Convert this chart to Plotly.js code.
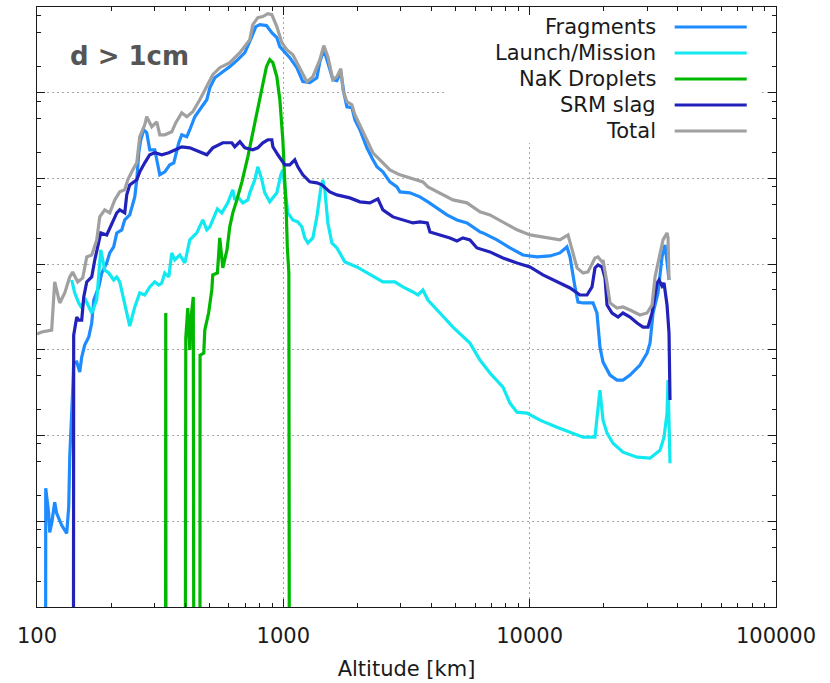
<!DOCTYPE html>
<html>
<head>
<meta charset="utf-8">
<script src="https://cdn.plot.ly/plotly-3.0.1.min.js"></script>
<style>
  html, body { margin: 0; padding: 0; background: #ffffff; }
  #chart { width: 830px; height: 683px; }
</style>
</head>
<body>
<div id="chart"></div>
<script>
// Debris density versus altitude, objects larger than 1 cm.
// Altitudes in km; densities stored as log10 values (axis is logarithmic).
// A value of -5 marks a population that drops to nothing (falls off the bottom).

const fragAlt = [108.2,108.5,111.5,112.6,114.7,118,120.2,126,132,134.5,135.8,138.3,139.6,140.9,145,149.1,151.9,156.2,162.2,166.8,170,178.1,183.2,191.9,197.4,204.8,210.8,220.8,227.1,237.9,249.4,254.1,258.9,263.8,271.3,278.9,286.9,300.7,315.1,330.2,346,359.2,376.3,387,405.5,417.2,437.1,466.7,489,503,527,567.9,606,653.4,698,744.9,773.2,803,854,898,941,968,1014,1062,1134,1200,1281,1368,1407,1460,1516,1589,1650,1712,1761,1811,1898,1952,2045,2184,2288,2398,2536,2707,2891,2973,3264,3585,3864,4322,4615,5068,5565,6283,6462,7365,8318,9392,10710,12090,13270,14170,14580,15270,15710,16470,18080,18760,19290,19850,21180,22620,23930,25550,28050,29960,30800,31680,33190,34460,35440,36110,36790];
const fragLog = [-5,1.386,1.093,0.871,0.977,1.222,1.093,0.953,0.860,1.164,1.748,2.180,2.530,2.846,2.857,2.741,2.916,3.056,3.150,3.313,3.582,3.734,3.897,4.014,4.131,4.201,4.364,4.400,4.516,4.575,4.785,4.984,5.299,5.451,5.568,5.533,5.334,5.334,5.042,5.077,5.159,5.182,5.416,5.509,5.486,5.568,5.720,5.836,5.918,6.058,6.175,6.245,6.304,6.386,6.467,6.654,6.771,6.794,6.783,6.701,6.643,6.537,6.467,6.409,6.292,6.129,6.117,6.175,6.362,6.502,6.350,6.152,6.140,6.245,6.000,5.836,5.825,5.685,5.568,5.358,5.241,5.136,5.077,4.960,4.902,4.843,4.832,4.785,4.727,4.633,4.575,4.516,4.481,4.376,4.364,4.283,4.189,4.107,4.084,4.096,4.131,4.201,4.084,3.734,3.558,3.547,3.547,3.430,3.033,2.857,2.706,2.647,2.647,2.706,2.822,2.963,3.079,3.430,3.664,4.084,4.224,4.026,3.815];

const launchAlt = [138.3,142.3,147.7,151.9,156.2,162.2,166.8,174.8,181.5,188.4,195.6,204.8,210.8,216.7,231.4,237.9,249.4,261.3,273.8,286.9,300.7,312.2,321,330.2,342.7,352.5,362.6,379.9,398.1,417.2,445.5,471,489,503,540,562.6,595.1,623.6,635,653.4,684.7,717.6,731,766,787.8,817.9,841,881,941,977,995.4,1024,1043,1093,1145,1189,1222,1258,1318,1368,1420,1447,1474,1516,1574,1650,1778,1989,2184,2536,2836,3058,3358,3518,3687,3864,4322,4881,5722,6283,6899,7792,8318,8882,9750,11010,12910,14580,16470,18410,18940,19290,19850,20610,21790,23930,27290,30800,33820,35110,36110,36450,37130];
const launchLog = [3.815,3.664,3.547,3.488,3.605,3.500,3.430,3.582,4.166,3.932,3.897,3.815,3.850,3.792,3.430,3.278,3.500,3.664,3.640,3.734,3.792,3.757,3.780,3.897,3.850,4.131,4.049,4.107,4.014,4.283,4.364,4.516,4.400,4.435,4.645,4.598,4.715,4.867,4.750,4.785,4.715,4.750,4.832,4.984,5.136,4.984,4.832,4.727,4.832,5.042,5.101,4.750,4.598,4.516,4.493,4.435,4.306,4.248,4.306,4.551,4.890,4.984,4.867,4.481,4.248,4.189,4.026,3.967,3.897,3.792,3.792,3.734,3.675,3.640,3.698,3.582,3.430,3.266,3.079,2.881,2.729,2.565,2.379,2.273,2.262,2.180,2.098,2.040,1.981,1.981,2.332,2.530,2.180,2.028,1.911,1.806,1.748,1.736,1.829,1.981,2.262,2.647,1.678];

const nakAlt = [331.9,333.2,334.5,398.1,399.2,401.8,409.4,417.2,421,431,434.9,458.1,459.2,475.4,480,497.3,512.4,517.2,540,552,567.9,590.5,606,623.6,647.7,679,717.6,751.8,787.8,825.7,854,881,906.7,941,968,995.4,1014,1028,1038,1053,1062];
const nakLog = [-5,3.430,-5,-5,2.974,3.138,3.488,2.998,3.348,3.617,-5,-5,2.939,2.963,3.231,3.430,3.699,3.874,3.897,4.306,3.956,4.166,4.435,4.598,4.750,4.960,5.252,5.533,5.801,6.117,6.304,6.386,6.350,6.187,5.918,5.451,5.019,4.598,4.201,3.897,-5];

const srmAlt = [140.3,140.9,145,147.7,151.9,154.8,159.2,166.8,171.6,178.1,181.5,191.9,201.2,210.8,216.7,227.1,231.4,237.9,254.1,261.3,273.8,286.9,300.7,321,342.7,362.6,387,417.2,458.1,489,517.2,567.9,617.8,635,666,698,751.8,787.8,825.7,865,898,906.7,950,1014,1062,1113,1145,1200,1281,1368,1434,1545,1650,1862,2045,2245,2420,2536,2785,3058,3358,3585,3840,3936,4322,4746,5068,5359,5722,6109,6899,7792,8882,10030,11320,12910,14580,16000,17090,17910,18410,18940,19670,20220,20610,21600,22840,23930,25550,27290,28850,30230,31380,32890,33510,34460,35110,36110,36790,37130];
const srmLog = [-5,3.172,3.383,3.348,3.348,3.617,3.792,3.850,4.049,4.248,4.364,4.341,4.481,4.598,4.633,4.598,4.808,4.925,4.984,5.077,5.182,5.276,5.299,5.276,5.299,5.334,5.369,5.357,5.311,5.276,5.357,5.416,5.416,5.369,5.428,5.357,5.334,5.357,5.416,5.451,5.451,5.369,5.276,5.159,5.159,5.217,5.136,5.042,4.960,4.949,4.925,4.843,4.808,4.773,4.727,4.715,4.762,4.633,4.551,4.516,4.481,4.493,4.481,4.376,4.341,4.306,4.271,4.306,4.283,4.189,4.143,4.072,4.014,3.967,3.874,3.792,3.722,3.640,3.640,3.734,3.956,3.991,3.967,3.839,3.523,3.430,3.383,3.430,3.383,3.313,3.266,3.266,3.430,3.780,3.815,3.745,3.780,3.523,3.196,2.414];

const totalAlt = [100,104.5,114.7,118,123.7,129.6,135.8,139.6,146.3,153.3,159.2,166.8,174.8,179.8,188.4,197.4,206.9,216.7,227.1,233.6,244.8,254.1,261.3,273.8,278.9,292.3,306.4,315.1,330.2,352.5,366,387,405.5,429,458.1,480,517.2,552,606,666,731,751.8,787.8,825.7,865,898,941,986,1033,1093,1167,1246,1318,1407,1460,1516,1589,1650,1712,1745,1811,1898,1952,2084,2184,2310,2513,2707,2973,3264,3687,3864,4322,4881,5565,6283,6899,7792,8882,10030,11760,13270,14310,14990,15570,16470,17250,18410,18940,19670,19850,20610,21190,22620,23930,25550,28050,29960,31380,32280,33190,34780,36110,36450,36790];
const totalLog = [3.185,3.208,3.231,3.792,3.547,3.664,3.850,3.909,3.792,3.839,4.084,4.107,4.283,4.551,4.633,4.598,4.750,4.843,4.867,4.984,5.100,5.182,5.486,5.626,5.720,5.603,5.661,5.509,5.509,5.544,5.650,5.766,5.720,5.778,5.918,6.035,6.210,6.292,6.350,6.467,6.619,6.794,6.876,6.888,6.923,6.911,6.771,6.584,6.502,6.444,6.292,6.129,6.187,6.386,6.549,6.421,6.152,6.187,6.280,6.035,5.895,5.860,5.743,5.568,5.428,5.299,5.194,5.100,5.042,5.007,4.960,4.902,4.832,4.750,4.715,4.610,4.575,4.493,4.400,4.341,4.306,4.283,4.341,4.143,3.956,3.897,3.909,4.072,4.084,4.026,4.049,3.780,3.547,3.488,3.500,3.465,3.407,3.430,3.523,3.850,4.026,4.283,4.364,4.306,3.815];

const seriesNames = ['Fragments', 'Launch/Mission', 'NaK Droplets', 'SRM slag', 'Total'];
const seriesColors = ['#1e8cff', '#12e8f0', '#00b800', '#2222bb', '#a0a0a0'];

// Axis ticks
const xMajor = [100, 1000, 10000, 100000];
const xLabels = ['100', '1000', '10000', '100000'];
const xMinorMantissas = [2, 3, 4, 5, 6, 7, 8, 9];
const yMajor = [1e1, 1e2, 1e3, 1e4, 1e5, 1e6];
const yMinorMantissas = [2, 5, 8];

const xMinor = [];
[100, 1000, 10000].forEach(d => xMinorMantissas.forEach(m => xMinor.push(m * d)));
const yMinor = [];
[1, 1e1, 1e2, 1e3, 1e4, 1e5, 1e6].forEach(d => yMinorMantissas.forEach(m => yMinor.push(m * d)));

const toValue = v => Math.pow(10, v);
const columns = [
  [fragAlt, fragLog], [launchAlt, launchLog], [nakAlt, nakLog], [srmAlt, srmLog], [totalAlt, totalLog]
];

const traces = columns.map((c, i) => ({
  type: 'scatter',
  mode: 'lines',
  name: seriesNames[i],
  x: c[0],
  y: c[1].map(toValue),
  line: { color: seriesColors[i], width: 3.2 },
  hoverinfo: 'skip'
}));

const ink = '#1a1a1a';
const gridColor = '#a6a6a6';
const mainFont = 'DejaVu Sans, sans-serif';

// Legend block, top right: labels right-aligned with a line sample after each
const keyTextX = 0.8399;
const keyLineX0 = 0.8629, keyLineX1 = 0.9604;
const keyRowsY = [0.9667, 0.9233, 0.8800, 0.8367, 0.7933];

const shapes = [
  // key background masks the grid behind it
  { type: 'rect', xref: 'paper', yref: 'paper', x0: 0.5544, x1: 0.978, y0: 0.7733, y1: 0.985,
    fillcolor: '#ffffff', line: { width: 0 }, layer: 'above' }
];
const annotations = [];
seriesNames.forEach((name, i) => {
  shapes.push({ type: 'line', xref: 'paper', yref: 'paper', x0: keyLineX0, x1: keyLineX1,
    y0: keyRowsY[i], y1: keyRowsY[i], line: { color: seriesColors[i], width: 3.2 }, layer: 'above' });
  annotations.push({ xref: 'paper', yref: 'paper', x: keyTextX, y: keyRowsY[i], xanchor: 'right', yanchor: 'middle',
    text: name, showarrow: false, font: { family: mainFont, size: 21, color: ink } });
});
annotations.push({ xref: 'paper', yref: 'paper', x: 0.0415, y: 0.918, xanchor: 'left', yanchor: 'middle',
  text: '<b>d &gt; 1cm</b>', showarrow: false, font: { family: mainFont, size: 26, color: '#555555' } });

const layout = {
  width: 830,
  height: 683,
  margin: { l: 37, r: 54, t: 7, b: 76 },
  paper_bgcolor: '#ffffff',
  plot_bgcolor: '#ffffff',
  showlegend: false,
  font: { family: mainFont, size: 21, color: ink },
  xaxis: {
    type: 'log', range: [2, 5],
    tickmode: 'array', tickvals: xMajor, ticktext: xLabels,
    ticks: 'inside', ticklen: 8, tickwidth: 1, tickcolor: ink,
    ticklabelstandoff: 10,
    showline: true, linecolor: ink, linewidth: 1, mirror: 'ticks',
    showgrid: true, gridcolor: gridColor, gridwidth: 1, griddash: '2px,3px',
    minor: { tickmode: 'array', tickvals: xMinor, ticks: 'inside', ticklen: 4, tickwidth: 1, tickcolor: ink, showgrid: false },
    zeroline: false,
    title: { text: 'Altitude [km]', font: { family: mainFont, size: 21, color: ink }, standoff: 14 }
  },
  yaxis: {
    type: 'log', range: [0, 7],
    tickmode: 'array', tickvals: yMajor, showticklabels: false,
    ticks: 'inside', ticklen: 8, tickwidth: 1, tickcolor: ink,
    showline: true, linecolor: ink, linewidth: 1, mirror: 'ticks',
    showgrid: true, gridcolor: gridColor, gridwidth: 1, griddash: '2px,3px',
    minor: { tickmode: 'array', tickvals: yMinor, ticks: 'inside', ticklen: 4, tickwidth: 1, tickcolor: ink, showgrid: false },
    zeroline: false
  },
  shapes: shapes,
  annotations: annotations
};

Plotly.newPlot('chart', traces, layout, { displayModeBar: false, staticPlot: true });
</script>
</body>
</html>
